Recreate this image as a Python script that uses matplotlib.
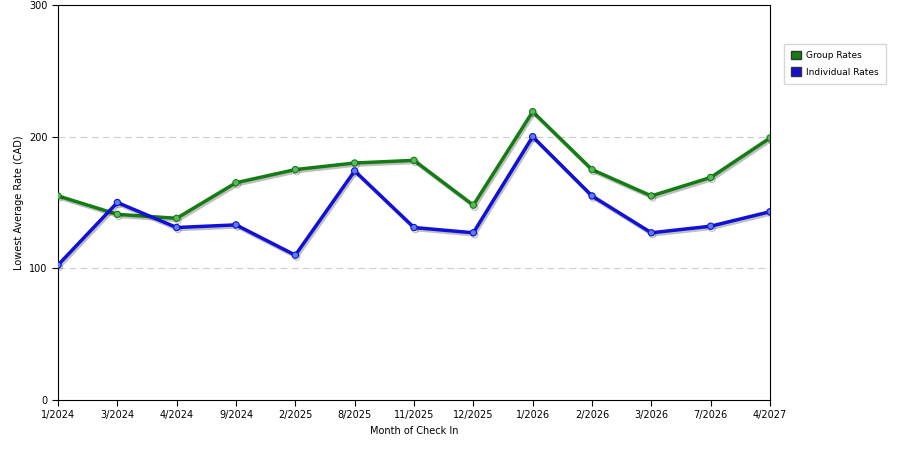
import matplotlib
matplotlib.use("Agg")
import matplotlib.pyplot as plt
import matplotlib.patheffects as pe
from matplotlib.patches import Patch

months = ["1/2024","3/2024","4/2024","9/2024","2/2025","8/2025","11/2025","12/2025","1/2026","2/2026","3/2026","7/2026","4/2027"]
group = [155,141,138,165,175,180,182,148,219,175,155,169,199]
indiv = [102.5,150,131,133,110,174,131,127,200,155,127,132,143]

fig = plt.figure(figsize=(9,4.5), dpi=100)
ax = fig.add_axes([58/900, 1-400/450, 712/900, 395/450])
x = range(len(months))
shadow = [pe.SimpleLineShadow(offset=(1,-1.5), alpha=0.25), pe.Normal()]
ax.plot(x, group, color="#137d13", lw=2.5, marker="o", ms=4.5, mfc="#5cb85c", mec="#137d13", mew=0.8, path_effects=shadow, zorder=3)
ax.plot(x, indiv, color="#1010d8", lw=2.5, marker="o", ms=4.5, mfc="#5c7ff0", mec="#1010d8", mew=0.8, path_effects=shadow, zorder=3)
ax.set_xlim(0, len(months)-1)
ax.set_ylim(0, 300)
ax.set_yticks([0,100,200,300])
ax.set_xticks(list(x))
ax.set_xticklabels(months)
ax.tick_params(labelsize=7, length=4)
for yv in (100,200):
    ax.axhline(yv, color="#cccccc", lw=0.8, ls=(0,(6,4)), zorder=1)
ax.set_xlabel("Month of Check In", fontsize=7)
ax.set_ylabel("Lowest Average Rate (CAD)", fontsize=7)
handles = [Patch(facecolor="#137d13", edgecolor="#333333", label="Group Rates"),
           Patch(facecolor="#1010d8", edgecolor="#333333", label="Individual Rates")]
fig.legend(handles=handles, loc="upper left", bbox_to_anchor=(779/900, 1-39/450), fontsize=6.5,
           frameon=True, fancybox=False, edgecolor="#cccccc", handlelength=1.1, handleheight=1.1,
           handletextpad=0.6, borderpad=0.8, labelspacing=0.8)
fig.savefig("out.png", dpi=100)
